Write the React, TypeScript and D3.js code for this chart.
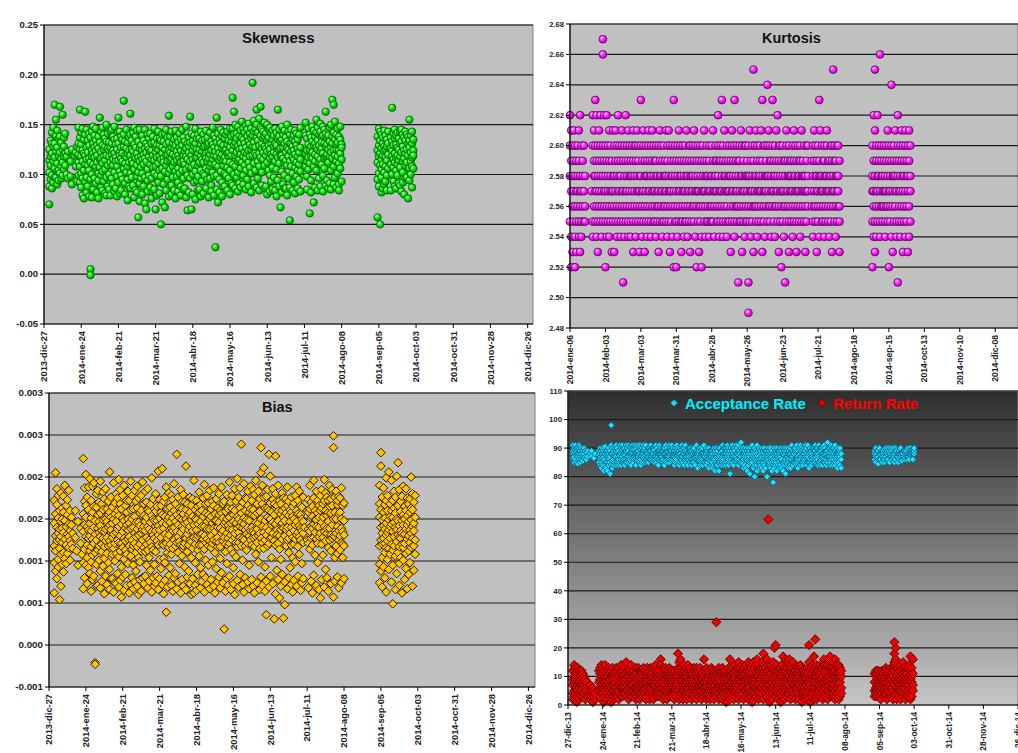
import * as d3 from "d3";

const FONT = "Arial, 'Liberation Sans', Helvetica, sans-serif";
const MES = ["ene", "feb", "mar", "abr", "may", "jun", "jul", "ago", "sep", "oct", "nov", "dic"];

// ---- Skewness, milésimas, una lista por día ----
const skewStartA = "2013-12-31";
const skewA: number[][] = [
  [102,88,125,70,114],[118,95,134,109],[142,99,121,86,131],[113,128,92,147],[170,106,131,117,97],[155,97,139,123],[111,144,90,127,103],
  [136,104,119,94],[168,122,101,138],[115,132,96,108],[160,125,112,99],[137,118,105,128],[121,109,141],[100,118],
  [123,96],[],[113,98],[125,90],[],[119],[108,122],
  [93,128],[147,112,131,99,120],[165,108,137,92,125],[142,118,101,130,87],[113,146,124,96,79],[135,104,121,76],[163,119,140,110,93],
  [127,97,145,115,82],[109,134,88,122],[141,116,78,104,129],[5,-1,112,137,95],[124,100,143,118,77],[131,85,110,148,121],[117,139,96,127],
  [146,108,123,91,134],[112,129,82,119],[138,101,126,94,76],[157,115,132,107],[122,143,99,116,87],[129,111,147,103,84],[140,93,118,125],
  [114,136,105,81,128],[150,119,97,133,79],[126,109,141,88],[118,132,100,124,85],[143,112,79,127],[131,96,120,145],[109,138,115,90,124],
  [148,121,102,135,83],[117,130,86,113],[136,108,125,98,78],[157,114,131,92],[122,143,103,119,81],[127,99,116,138,84],[113,135,121,95],
  [174,128,106,140],[119,91,133,111,80],[145,117,102,126],[108,132,95,121,74],[137,112,88,124],[161,119,140,101,86],[125,97,114,134],
  [111,142,123,89],[130,105,118,147,77],[116,127,84,138],[144,98,121,109,82],[57,117,133,102],[126,91,145,113,73],[107,129,118,96],
  [139,115,101,124,80],[120,88,134,110],[145,126,97,116,71],[113,131,65,122],[128,105,140,94,83],[118,136,99,125],[141,110,123,87],
  [124,96,131,115,76],[107,138,119,83],[132,114,101,146,85],[122,65,127,108],[136,99,117,129,79],[111,143,92,125],[129,104,118,136,81],
  [50,115,98,134],[140,121,106,127,72],[116,133,90,112],[125,67,141,103],[130,109,119,145,84],[120,95,137,113],[159,124,101,132,78],
  [114,138,105,122],[127,89,116,143,80],[108,131,120,97],[135,112,126,84],[118,144,103,129,76],[123,98,114,137],[106,132,119,92,83],
  [141,116,127,101],[112,135,88,124,79],[129,104,145,117],[119,137,96,113,85],[133,110,123,86],[126,148,105,118,77],[64,115,131,99],
  [137,122,108,128,82],[158,113,96,132],[65,119,141,107],[124,100,134,115,80],[110,128,92,139],[131,117,103,146,75],[117,94,125,136],
  [140,109,121,98,84],[125,136,112,85],[104,130,118,143,78],[134,115,93,123],[112,140,127,101,81],[128,99,119,135],[121,144,106,116,86],
  [137,113,95,129],[116,131,104,122,77],[142,120,108,96],[124,89,133,111,83],[130,147,115,102],[119,98,127,139,79],[27,123,110,136],
  [157,118,132,99,85],[72,126,108,141],[114,135,121,95,82],[131,103,117,145],[120,138,92,126,78],[109,129,142,114],[136,117,101,124,88],
  [125,99,140,113],[143,121,107,130,84],[118,134,96,122],[127,112,146,104,80],[133,91,119,138],[177,124,110,146,89],[163,129,100,140],
  [119,150,108,132,86],[141,122,97,136],[128,113,148,102,83],[115,139,125,91],[144,106,131,120,87],[126,153,112,137],[135,118,99,146,90],
  [122,142,109,131],[149,127,116,104,85],[138,121,95,145],[112,133,151,124,88],[130,107,141,118],[146,125,136,101,82],[192,119,139,128],
  [154,132,111,143,91],[127,146,104,121],[165,137,119,150,87],[134,113,142,96],[121,156,129,108,84],[168,139,117,147],[131,125,145,102,89],
  [143,115,136,122],[128,152,109,138,86],[119,141,126,88],[150,123,134,112,80],[137,104,145,129],[125,147,116,99,83],[141,131,120,93],
  [135,118,144,107,85],[122,139,97,128],[146,113,131,84],[129,142,105,120,78],[165,117,136,94],[138,124,111,145,88],[67,133,119,126],
  [119,148,103,135,82],[140,127,90,116],[131,112,144,99,86],[114,137,122,86],[127,150,109,133,79],[143,118,96,125],[54,131,113,140,87],
  [123,145,108,130],[136,101,128,117,84],[115,139,92,124],[144,120,107,133,81],[129,112,141,98],[118,135,104,126,86],[140,122,110,95],
  [127,147,115,103,83],[],[],[],[152,121,139,108],[113,136,124,98,85],[130,146,117,105],
  [61,125,140,111],[137,119,128,94,82],[148,116,133,122],[72,129,144,108],[120,138,113,131,87],[155,127,104,142],[134,118,147,125,84],
  [112,140,129,96],[143,123,151,115,88],[126,137,110,132],[148,121,99,139,83],[131,116,145,106],[163,128,141,118,89],[120,137,94,130],
  [144,125,112,139,86],[91,133,118,147],[127,104,150,122,85],[175,138,116,131],[170,124,142,108,90],[135,119,153,97],[125,140,113,130,87],
  [146,118,101,132],[111,138,124,90,84],[135,121,148,106],[93,130,115,127],
];
const skewStartB = "2014-09-04";
const skewB: number[][] = [
  [57,112,138,95,124],[146,101,129,118,88],[50,134,109,121,143],[115,97,140,126,105,82],[131,119,86,137,110],[144,123,102,128,90],[108,139,117,93,125],
  [135,114,128,99,84],[120,143,106,131],[],[126,110,137,84],[167,118,133,100,124],[141,107,129,115,93],[112,136,121,88,145],
  [130,104,117,139,86],[119,142,99,127,110],[136,114,125,91],[107,131,143,118,89],[145,122,83,133],[128,113,140,102,92],[116,137,124,80],
  [134,109,121,143,96],[125,140,97,112],[119,131,76,138],[155,127,106,134,94],[113,139,122,100],[131,117,143,108,87],[124,106,135,119],
];

// ---- Kurtosis, centésimas sobre 2.00 ----
const kurtStartA = "2014-01-06";
const kurtA: number[][] = [
  [62,58,55,60],[61,57,54,59,52],[53,56,60,58],[57,55,61,59],[54,58,56,52,60],[59,57,53,55],[56,60,58,57],
  [55,54,59,61],[58,57,53,56,62],[60,55,57,54],[56,59,58],[60,55,57],[58,56,55],[],
  [],[],[],[57],[55,60,62,54],[59,56,58,61],[63,57,55,60,58],
  [56,54,59,62,57],[60,58,55,53],[57,61,56,59],[62,55,58,60],[54,57,59,56],[67,66,58,55,60],[57,62,56,59],
  [52,58,55,60,57],[56,59,54,62],[60,57,55,58],[61,56,59,54],[55,58,57,60],[57,53,59,56],[58,61,55,57],
  [60,56,53,58],[57,59,55,61],[56,58,54,60],[62,55,57,59],[58,56,60,57],[55,59,54,58],[57,60,56,61],
  [59,51,55,57],[56,58,60,54],[57,62,55,59],[60,56,58,57],[54,59,55,61],[58,57,56,60],[55,58,59,54],
  [57,60,56,58],[59,53,55,61],[56,58,57,60],[60,55,59,54],[58,57,56,61],[55,59,60,57],[57,56,53,58],
  [63,58,55,60],[56,59,57,54],[60,57,61,55],[58,56,59,53],[57,60,55,58],[54,58,56,59],[61,57,60,55],
  [56,59,58,57],[60,55,54,58],[57,56,59,61],[58,60,55,57],[55,57,56,59],[59,58,60,54],[57,55,58,56],
  [60,56,57,53],[58,59,55,61],[56,57,60,58],[55,54,59,57],[58,60,56,55],[57,56,58,59],[61,58,55,57],
  [56,59,60,54],[58,55,57,61],[57,60,56,53],[59,57,58,55],[60,54,56,58],[63,52,57,59],[58,56,60,55],
  [52,57,55,59],[60,58,56,54],[57,61,55,59],[56,58,60,57],[59,55,53,58],[57,60,56,55],[58,54,59,57],
  [55,57,60,56],[59,58,55,61],[57,56,58,54],[60,59,57,55],[56,58,53,60],[58,55,57,59],[57,60,56,58],
  [59,56,61,55],[57,58,54,60],[52,56,59,57],[58,55,60,57],[56,59,57,53],[60,58,55,56],[52,57,59,54],
  [58,56,60,57],[55,59,57,61],[57,58,56,54],[59,55,60,58],[56,57,58,55],[60,54,59,57],[57,56,55,58],
  [58,60,56,55],[57,59,55,61],[56,57,58,54],[60,58,57,59],[55,56,59,57],[62,58,55,60],[57,54,56,59],
  [59,57,60,55],[63,56,58,57],[55,59,54,60],[58,57,56,61],[57,55,59,58],[56,60,57,54],[59,58,55,57],
  [55,57,60,58],[58,56,59,53],[60,55,57,61],[57,59,56,58],[63,54,55,60],[56,58,57,59],[57,60,55,56],
  [51,58,56,59],[59,55,57,60],[56,61,58,55],[58,57,60,53],[55,59,56,57],[57,58,54,60],[60,56,55,58],
  [58,57,59,55],[49,51,56,60,58],[57,55,58,61],[56,59,54,57],[60,58,57,55],[65,56,59,53],[57,60,58,56],
  [55,58,56,61],[59,57,60,54],[56,55,58,57],[58,60,57,59],[57,56,55,61],[63,58,59,53],[56,57,60,55],
  [60,58,54,57],[57,59,56,58],[64,55,58,60],[58,57,61,56],[56,60,55,59],[59,57,58,54],[63,56,60,57],
  [57,55,59,58],[58,60,56,54],[56,57,61,59],[62,58,55,57],[59,56,60,53],[55,58,57,60],[52,57,56,59],
  [58,60,55,57],[57,56,59,54],[51,59,58,56],[60,57,55,61],[56,58,59,57],[58,55,60,53],[57,59,56,58],
  [59,57,58,55],[56,60,54,57],[58,55,59,61],[57,58,56,60],[55,59,57,53],[60,56,58,57],[57,58,55,59],
  [56,59,60,54],[58,57,55,61],[59,56,57,58],[60,55,58,57],[57,58,53,56],[55,60,59,57],[58,56,57,60],
  [],[],[57,59,56],[58,55,60,54],[61,57,59,56],[56,58,55,60],[59,57,58,53],
  [57,60,56,55],[63,58,59,54],[56,57,61,58],[58,55,60,57],[55,59,57,56],[60,58,54,59],[57,56,55,58],
  [58,60,57,61],[56,59,55,57],[59,57,58,54],[55,58,56,60],[57,59,60,53],[65,56,58,57],[60,55,57,59],
  [58,56,59,54],[57,60,55,58],[56,58,57,60],[59,55,56,53],
];
const kurtStartB = "2014-09-02";
const kurtB: number[][] = [
  [52,58,60,55,57],[54,59,56,62,57],[65,58,55,61,53],[57,60,56,59,54],[62,55,58,57],[56,59,60,58],[66,57,55,54],
  [58,60,56,59],[55,57,58,56],[59,56,57,60],[57,58,55,54],[60,56,59,57],[56,55,58,61],[52,57,59,60],
  [58,55,56,57],[64,59,60,54],[57,58,56,53],[60,55,59,58],[56,57,58,61],[59,54,55,57],[51,62,58,60],
  [57,56,59,55],[58,60,54,57],[56,59,61,55],[60,57,58,53],[55,58,56,59],[57,61,60,54],[59,56,55,58],
  [58,60,57,53],[56,54,59,61],[60,57,55,58],
];

// ---- Bias, en unidades de 0.00001 ----
const biasStartA = "2013-12-31";
const biasA: number[][] = [
  [145,118,62,172,98],[130,156,88,205,112],[167,124,140,79,186],[102,151,133,93,178],[138,115,160,54,125],[181,108,147,129,70],[122,163,96,139,150],
  [158,134,110,177,87],[126,148,190,103],[141,119,166,97],[173,132,109,155],[116,144,129,184],[136,101,160,124],[152,120,143],
  [133,115],[],[160,128],[112],[147,95],[],[139,121],
  [108],[222,156,67,135,98],[187,143,114,171,80],[203,129,152,95,166],[119,176,141,104,73],[161,137,188,92,127],[145,112,198,130,85],
  [172,151,99,136,117,64],[126,189,107,158,78],[193,140,121,165,82],[-21,-23,148,110,132],[164,125,180,96,70],[139,113,155,71,184],[118,170,134,101,147],
  [157,129,195,88,142,68],[111,168,136,120,76],[182,149,94,161,127],[135,117,174,103,61],[150,186,124,82,138],[128,162,109,147,72],[171,140,118,98,155],
  [143,206,124,158,90,66],[119,152,137,176,79],[164,108,145,128,79],[132,193,115,150,63],[156,121,169,100,74],[109,147,180,134,73],[175,138,125,160,85],
  [122,197,154,105,141,69],[168,130,112,185,77],[144,121,162,93,57],[135,178,116,151,81],[190,127,148,102,65],[113,166,139,124,84],[158,143,108,172,71],
  [126,183,150,97,137],[172,118,145,129,62],[139,195,106,161,72],[150,125,178,114,80],[118,162,140,95,67],[184,133,121,153,75],[129,171,110,146,88],
  [163,138,117,189,70],[146,104,175,131,60],[120,157,142,99,78],[178,133,112,160,64],[137,194,125,80],[154,116,168,141,73],[111,147,136,183,82],
  [170,128,152,95,120],[141,186,113,161,68],[125,159,104,138,76],[167,122,146,89],[135,199,117,154,63],[113,150,131,174,80],[148,127,162,96,70],
  [159,136,111,180,74],[124,165,148,82],[142,207,119,131,66],[173,102,151,137,79],[128,158,91,166],[210,145,120,155,72],[119,171,139,103,61],
  [153,132,176,98,77],[39,144,121,188],[163,127,149,110,69],[131,181,116,152,83],[146,120,164,92],[178,139,108,157,71],[115,151,136,173,64],
  [140,192,125,160,80],[168,118,147,85],[227,135,155,122,67],[129,176,110,143,75],[151,123,163,97],[134,185,119,158,62],[162,141,106,149,78],
  [118,156,138,179,70],[145,121,170,93],[213,150,127,161,66],[132,168,111,146,81],[155,119,137,88],[141,176,125,158,73],[123,149,166,104,60],
  [174,136,115,153,79],[128,196,143,62],[150,120,161,98,71],[137,172,127,149,65],[165,113,144,130,84],[119,158,182,106],[147,131,167,92,68],
  [132,160,119,141,76],[175,126,153,84],[141,191,114,130,63],[157,122,168,101,80],[126,147,138,178,72],[169,118,155,95],[138,184,124,150,67],
  [153,130,116,162,78],[121,171,145,99],[166,139,125,187,70],[135,156,110,148,62],[148,123,174,91],[128,163,140,117,75],[180,146,122,155,81],
  [139,117,160,103,68],[157,133,188,86],[124,151,136,168,74],[19,171,128,144],[146,120,159,111,64],[133,179,150,97,79],[162,127,143,118,71],
  [121,194,138,152,82],[170,145,114,131,66],[137,162,125,178],[155,109,147,92,73],[128,186,133,160,60],[145,122,171,105],[198,153,117,139,77],
  [134,176,150,122,69],[163,128,141,187,84],[239,146,118,157],[127,170,139,101,72],[151,192,125,144,63],[118,160,137,175,80],[174,132,149,113],
  [140,166,121,183,75],[158,130,148,95,67],[125,189,136,162],[172,119,155,140,78],[136,161,128,185,70],[154,117,179,133,62],[129,196,146,108],
  [168,138,122,157,74],[145,183,130,99],[133,159,115,174,66],[235,150,127,205,81],[122,168,141,190,71],[176,134,211,115],[148,125,163,93,64],
  [36,140,177,131,76],[163,118,152,185],[227,136,160,121,69],[150,201,127,169,82],[128,158,143,104],[173,133,186,146,73],[31,155,124,168],
  [225,144,180,119,61],[137,166,131,89],[159,121,148,190,78],[130,172,114,56],[168,137,156,102,70],[145,181,126,160,84],[32,152,139,175],
  [48,163,130,148,75],[174,118,157,137],[140,188,125,166,67],[127,154,171,110,80],[161,133,147,92],[119,176,140,158,72],[153,128,165,104,63],
  [136,169,120,150,77],[178,143,126,99],[131,160,147,188,70],[156,117,172,134,82],[142,183,129,108],[125,155,166,139,65],[164,136,150,97,74],
  [147,122,176,133,79],[140],[],[125,160],[138,173,121,158,68],[162,135,190,114],[127,151,141,170,76],
  [153,119,165,139,62],[175,144,128,196,83],[134,160,107,149],[149,183,126,141,71],[121,157,172,98],[166,140,129,152,66],[56,178,133,160],
  [185,146,120,163,78],[128,168,152,107],[141,197,135,172,69],[160,124,181,90],[133,154,139,176,80],[172,116,147,158,64],[125,190,165,139],
  [157,131,174,112,73],[143,166,127,185],[249,235,150,57,130],[129,176,158,104,76],[118,183,150,133],[167,141,109,172,81],[136,177,125,156,68],
  [158,130,175,113],[187,122,150,139,74],[120,166,135,104],[148,131,169,118,79],
];
const biasStartB = "2014-09-04";
const biasB: number[][] = [
  [190,152,118,168,96,74],[229,213,140,125,161,88],[176,133,104,149,120,69],[158,187,127,142,93],[121,167,138,110,151,80],[145,199,116,131,172,63],[134,160,178,102,124],
  [206,149,115,137,90],[168,127,153,108,141],[196,120,144,160,75],[49,135,172,113,152,95],[183,129,146,118,163],[140,176,106,157,66],[201,150,123,137,85],
  [217,166,131,110,148],[128,185,142,117,97,71],[159,136,171,104,127],[177,120,148,133,62],[143,189,116,155,101],[165,132,150,121,78],[186,138,109,160,91],
  [154,175,126,143,67],[130,168,147,112,84],[174,122,158,137,98],[200,149,133,116,163],[161,127,180,141,70],[145,170,118,136,89],[178,152,125,108],
];

// ---- Acceptance Rate / Return Rate, % ----
const accStartA = "2013-12-31";
const accA: number[][] = [
  [89,86.5,91,88],[87,90,85,88.5],[91,88,86,89.5],[85,89,87.5,90],[88,84.5,90,87],[89.5,86,91,88],[87,90.5,85,89],
  [88,86,90],[89,87,85.5],[90,86.5,88],[87,89],[86,88.5],[89,87],[],
  [88],[87,89],[],[86.5],[88],[],[],
  [89,85,87.5],[84,88,90,86.5],[83,89,87,85],[86.5,90,84,88],[82,87,89,85.5],[88,84,90.5,86],[85,89,83,87.5],
  [87,82,89,85],[84,90,86.5,88],[81,87,89,85],[98,91,84,88],[88,85.5,90,83],[87,89,84,86],[85,90,88,87],
  [89,84,87,91],[86,88.5,85,90],[84,89,87,86],[88,85,91,87.5],[90,86,84,88],[87,89.5,85,91],[85,88,90,86],
  [88,84,87.5,90],[86,91,89,85],[87,85,88.5,90],[89,86,91,87],[85,88,86,90.5],[88,90,84,87],[86,89,88,91],
  [90,87,85,89.5],[87,91,86,88],[89,84,88,90],[86,88,91,85.5],[88,86,89,87],[91,88,85,90],[87,89.5,86,84],
  [85,90,88,87],[89,86.5,91,88],[87,85,89,90],[88,91,86,87.5],[86,89,85,88],[90,87,88.5,85],[88,86,90,89],
  [87,89,86,91],[85.5,88,90,87],[89,86,88,90],[90,87,85,89.5],[86,91,88,87],[88,85,90,86.5],[87,89,84,88],
  [89,86,88,91],[87,90,85.5,88],[88,86,89,87],[85,89,90,86],[90,87.5,88,84],[86,88,91,87],[89,85,87,90],
  [87,89,86,88.5],[88,91,87,85],[86,88,90,89],[89,85.5,87,91],[88,90,86,87],[87,84,89,88],[90,88,85,86.5],
  [86,89,88,91],[88,85,87.5,90],[89,87,84,88],[85,90,88,86],[87,86,89.5,91],[88,90,85,87],[86,88,90,84],
  [89,86,87,91],[87,89.5,85,88],[88,84,90,86],[86,88,87,90],[90,85,88.5,89],[84,87,89,86],[88,90,86,85],
  [85,89,87,90],[87,84,88,86.5],[89,86,91,88],[86,88,83,87],[88,90,85.5,89],[84,87,86,90],[87,89,88,85],
  [86,90,84,88],[88,85,87,91],[85,89,86.5,87],[89,84,88,90],[87,86,85,89],[83,88,90,86],[88,85.5,87,89],
  [86,89,84,87],[89,83,88,85],[84,87,86.5,90],[88,82,89,86],[85,90,87,84],[87,84,88,89],[82,86,90,85],
  [88,85,87,90],[86,89,84,88.5],[89,87,85,91],[84,88,86,90],[87,90,85,88],[90,86.5,88,84],[85,89,87,91],
  [88,84,90,86],[81,87,89,85],[86,90,84.5,88],[89,85,87,91],[87,88,84,90],[90,86,89,85.5],[86,91,88,87],
  [88,85,90,86],[91,87.5,84,89],[85,89,88,86],[87,92,85,90],[89,86,88,84.5],[86,90,83,88],[88,84,89,87],
  [83,88,86,90],[87,82,89,85.5],[90,86,84,88],[85,89,81,87],[88,84.5,90,86],[86,91,85,89],[89,87,83,88],
  [80,86,90,84],[87,89,85.5,88],[84,91,86,82],[89,85,88,87],[86,83,90,85],[88,86.5,84,89],[90,85,87,83],
  [85,89,82,88],[87,84,90,86],[83,88,85.5,89],[89,86,80,87],[86,90,84,88],[84,87,89,85],[88,83,86.5,90],
  [85,89,87,82],[78,86,88,84],[90,85,87.5,83],[86,89,84,88],[88,82,90,85],[84,87,86,89],[89,85.5,83,88],
  [86,90,84,87],[83,88,86,89],[88,85,90,82],[85,87.5,89,84],[90,86,81,88],[84,89,87,85],[87,83,88,90],
  [89,85,86,88],[84,88,90,83],[87,91,85.5,86],[88,84,89,87],[85,90,86,88],[89,86,84.5,90],[86,88,91,85],
  [83,87,89,86],[88,90,85,87.5],[86,84,88,91],[90,87,85,89],[85,89.5,88,84],[87,86,90,88],[89,85,87,91],
  [84,88,86.5,90],[86,91,87,85],[88,85,89,83],[85,90,88.5,86],[89,87,84,88],[87,85,90,86],[90,88,86.5,89],
  [86,89,91,85],[88,84.5,87,90],[84,90,86,88],[89,87,85,91],[85,88.5,90,84],[90,86,89,87],[87,84,88,90],
  [88,91,86,85],[85,89,87.5,90],[89,86,88,84],[87,92,85,89],[90,88,86.5,87],[84,87,90,85],[88,86,89,91],
  [87,90,84,88.5],[85,88,86,90],[89,87,91,84],[86,89.5,85,88],[83,88,90,87],[88,86,89,85],[87,89,84,90],
  [86,88,83],
];
const accStartB = "2014-09-01";
const accB: number[][] = [
  [88,86,89],[87,85,90],[89,86.5,88],[84.5,87,89],[88,90,86],[86,88,87.5],[89,87,85],
  [87,89,88],[85,88.5,86],[88,90,87],[86,89,88],[90,87.5,86],[88,85,89],[87,90,88],
  [89,86,87],[86.5,88,90],[88,87,85],[90,89,86],[87,88.5,89],[85,87,88],[89,86,88],
  [88,90,87],[86,88,85.5],[87,89,88],[89,87,86],[88,86.5,89],[86,89,87],[90,88,87],
  [87,86,88],[88,90,89],[89,87.5,88],[86,88,89],[88,89,90],
];

const retStartA = "2013-12-31";
const retA: number[][] = [
  [7,4,12,9,2],[5,14,8,3,10],[13,6,9,4,11],[8,3,10,6,1],[11,7,4,13,5],[6,9,2,8,12],[4,10,7,3],
  [9,5,12,7],[3,8,6,11],[10,4,7],[6,2,9],[8,5],[4,3],[],
  [5,2,7],[4,3],[6,1],[3,5],[2,4],[],[],
  [8,12,5],[13,6,9,3,11],[7,10,4,14,2],[11,5,8,13,6],[4,9,12,7,1],[10,3,6,14,8],[5,11,2,9,7],
  [12,7,4,10],[6,13,9,3,8],[9,5,11,2,7],[4,12,6,10,1],[10,7,3,13,5],[8,11,5,9,2],[6,3,12,7],
  [11,8,4,13,6],[5,9,12,3],[13,7,10,5,2],[7,4,11,8],[9,12,6,3,14],[6,10,3,8],[12,5,9,7,4],
  [4,8,13,6,10],[15,9,5,11],[7,3,10,12,5],[10,6,8,2,13],[5,12,4,9],[8,14,7,3,11],[11,6,9,4],
  [3,10,7,12,5],[9,4,11,6],[13,8,2,10,6],[6,11,4,9,3],[10,5,13,7],[4,9,6,12,2],[7,12,3,10],
  [12,6,9,4,11],[5,10,7,13,3],[8,4,12,6],[11,7,2,9,5],[6,13,8,3,10],[9,5,11,7],[4,10,6,12,2],
  [10,7,13,5],[6,11,3,9,8],[13,4,10,7,2],[7,12,5,9],[11,3,8,14,6],[5,9,12,4],[8,6,11,3,10],
  [12,5,9,7,4],[16,14,6,10,3],[7,11,4,8],[10,2,13,6,9],[4,8,11,5],[9,12,3,7,13],[6,10,5,11,2],
  [11,4,8,12,6],[5,9,13,3,7],[8,12,6,10],[3,7,11,5,9],[10,6,4,12,8],[7,11,2,9,5],[12,5,10,4],
  [6,9,3,11,7],[18,10,5,8,13],[4,12,7,15,2],[9,6,11,3,16],[13,8,5,10,4],[7,11,9,2,12],[5,14,8,6,10],
  [10,4,12,7,3],[8,13,6,11,2],[6,9,4,14,10],[12,7,3,9,5],[4,11,8,6,13],[9,2,12,5,7],[11,6,10,3,8],
  [7,13,5,9,4],[3,10,12,6,8],[13,7,4,11,2],[8,5,10,6,12],[6,11,3,9,7],[12,4,8,13,5],[5,9,7,2,10],
  [9,12,4,7,11],[16,6,10,3,8],[4,8,12,6],[11,5,9,2,13],[7,10,4,8,6],[10,3,12,5,9],[6,11,7,4,2],
  [8,5,10,13,3],[12,7,4,9,6],[5,11,8,2,10],[9,4,12,6,7],[29,3,10,8,5],[6,12,4,11,9],[10,7,2,8,13],
  [4,9,6,11,7],[11,5,8,3,12],[7,13,10,5,2],[9,4,7,12,6],[3,10,8,5,11],[12,6,4,9,1],[8,11,5,10,7],
  [5,9,13,4,8],[16,7,11,2,10],[10,4,8,12,6],[6,13,3,9,11],[9,5,11,7,2],[14,8,4,10,6],[7,12,9,3,5],
  [11,6,8,13,4],[4,10,15,7,2],[13,8,5,11,9],[8,3,12,6,10],[10,14,7,4,12],[6,9,11,2,8],[12,5,13,9,7],
  [5,11,8,14,3],[9,6,12,4,10],[13,8,15,7,2],[7,12,4,10,6],[11,3,9,13,5],[4,10,14,8,1],[15,7,11,5,9],
  [8,13,4,10,6],[12,6,9,14,3],[5,11,16,7,10],[10,4,8,13,2],[7,14,12,5,9],[13,9,3,11,6],[6,10,15,8,4],
  [18,11,7,13,2],[9,14,5,10,12],[4,8,13,6,11],[12,16,9,3,7],[65,10,5,14,8],[7,12,4,9,1],[14,6,11,8,3],
  [10,5,13,8,2],[6,12,9,15,4],[20,11,7,13,5],[21,8,12,3,10],[5,14,9,6,11],[12,7,4,10,2],[9,13,6,11,8],
  [4,10,13,7,1],[11,6,9,14,3],[8,17,12,5,10],[13,4,7,11,2],[6,12,16,9,5],[10,3,8,13,7],[15,9,5,11,4],
  [7,16,12,4,10],[12,5,9,13,2],[9,14,6,11,8],[5,10,15,3,7],[11,7,13,4,9],[8,12,2,10,6],[13,6,9,5,11],
  [6,11,4,8,13],[10,3,12,7,2],[14,8,5,11,9],[4,13,10,6,1],[9,5,12,8,3],[12,7,4,10,6],[5,10,8,3,11],
  [9,4,12,7,2],[11,6,13,8,3],[21,15,10,5,8],[7,12,4,9,1],[13,6,10,3,11],[5,9,14,8,4],[17,12,6,10,2],
  [23,10,5,13,8],[4,11,7,14,2],[12,6,9,3,10],[8,13,5,11,7],[10,3,12,6,14],[6,9,4,13,11],[13,7,10,2,8],
  [5,12,8,16,3],[11,6,14,9,4],[9,13,3,7,12],[14,5,10,8,2],[7,11,6,13,4],[10,17,8,3,12],[4,9,13,6,11],
  [12,6,15,9,3],[8,13,4,11,7],[16,10,5,12,2],[6,9,14,3,11],[11,4,8,13,6],[9,14,7,2,10],[5,11,13,8,3],
  [10,6,12,4],
];
const retStartB = "2014-09-01";
const retB: number[][] = [
  [8,5,11,3],[10,6,4,12],[7,9,3,11,5],[6,12,8,4],[9,3,11,7,5],[11,5,8,10,2],[4,9,12,6],
  [10,7,3,8,11],[5,12,9,6],[8,4,10,13,3],[12,6,9,2],[7,11,5,8],[9,3,12,6,10],[4,10,7,13],
  [11,6,3,9],[13,8,5,10,2],[18,22,15,12,7,4],[20,16,13,9,3],[10,14,6,2,8],[5,11,8,13,4],[12,7,3,9],
  [6,10,14,5,2],[9,4,12,7],[11,15,6,3,8],[4,8,13,10],[10,6,2,9,12],[7,12,4,11],[13,5,9,3,8],
  [6,10,14,7],[17,9,4,12,2],[8,13,6,10,3],[16,11,7,5],
];

// ---- ejes ----
const leftTicks = ["2013-12-27","2014-01-24","2014-02-21","2014-03-21","2014-04-18","2014-05-16","2014-06-13","2014-07-11","2014-08-08","2014-09-05","2014-10-03","2014-10-31","2014-11-28","2014-12-26"];
const kurtTicks = ["2014-01-06","2014-02-03","2014-03-03","2014-03-31","2014-04-28","2014-05-26","2014-06-23","2014-07-21","2014-08-18","2014-09-15","2014-10-13","2014-11-10","2014-12-08"];
const skewYTicks = [-0.05, 0, 0.05, 0.1, 0.15, 0.2, 0.25];
const skewYLabels = ["-0.05", "0.00", "0.05", "0.10", "0.15", "0.20", "0.25"];
const kurtYTicks = [2.48, 2.5, 2.52, 2.54, 2.56, 2.58, 2.6, 2.62, 2.64, 2.66, 2.68];
const kurtYLabels = ["2.48", "2.50", "2.52", "2.54", "2.56", "2.58", "2.60", "2.62", "2.64", "2.66", "2.68"];
const biasYTicks = [-0.0005, 0, 0.0005, 0.001, 0.0015, 0.002, 0.0025, 0.003];
const biasYLabels = ["-0.001", "0.000", "0.001", "0.001", "0.002", "0.002", "0.003", "0.003"];
const rateYTicks = [0, 10, 20, 30, 40, 50, 60, 70, 80, 90, 100, 110];
const rateYLabels = ["0", "10", "20", "30", "40", "50", "60", "70", "80", "90", "100", "110"];

const parse = (s: string) => new Date(s + "T00:00:00");
const pad = (n: number) => (n < 10 ? "0" + n : "" + n);
const fmtLong = (d: Date) => `${d.getFullYear()}-${MES[d.getMonth()]}-${pad(d.getDate())}`;
const fmtShort = (d: Date) => `${pad(d.getDate())}-${MES[d.getMonth()]}-${pad(d.getFullYear() % 100)}`;

type Pt = { d: Date; v: number };
const expand = (start: string, days: number[][], f: (v: number) => number): Pt[] => {
  const t0 = parse(start);
  const out: Pt[] = [];
  days.forEach((vals, i) => {
    const d = d3.timeDay.offset(t0, i);
    vals.forEach(v => out.push({ d, v: f(v) }));
  });
  return out;
};

const skewPts = [...expand(skewStartA, skewA, v => v / 1000), ...expand(skewStartB, skewB, v => v / 1000)];
const kurtPts = [...expand(kurtStartA, kurtA, v => 2 + v / 100), ...expand(kurtStartB, kurtB, v => 2 + v / 100)];
const biasPts = [...expand(biasStartA, biasA, v => v / 100000), ...expand(biasStartB, biasB, v => v / 100000)];
const accPts = [...expand(accStartA, accA, v => v), ...expand(accStartB, accB, v => v)];
const retPts = [...expand(retStartA, retA, v => v), ...expand(retStartB, retB, v => v)];

const diamond = (s: number) => `M0,${-s}L${s},0L0,${s}L${-s},0Z`;

type Box = { l: number; r: number; t: number; b: number };

const Panel = (props: {
  box: Box; xDom: [string, string]; yDom: [number, number];
  yTicks: number[]; yLabels: string[]; xTicks: string[]; xFmt: (d: Date) => string;
  yFont: number; xFont: number; bg: string;
  marks: (x: d3.ScaleTime<number, number>, y: d3.ScaleLinear<number, number>) => any;
}) => {
  const { box, yTicks, yLabels, xTicks, xFmt, yFont, xFont } = props;
  const x = d3.scaleTime().domain(props.xDom.map(parse)).range([box.l, box.r]);
  const y = d3.scaleLinear().domain(props.yDom).range([box.b, box.t]);
  return (
    <g>
      <rect x={box.l} y={box.t} width={box.r - box.l} height={box.b - box.t} fill={props.bg} stroke="#808080" strokeWidth={1} />
      {yTicks.slice(1).map(t => (
        <line key={t} x1={box.l} x2={box.r} y1={y(t)} y2={y(t)} stroke="#1a1a1a" strokeWidth={1.2} />
      ))}
      {props.marks(x, y)}
      <line x1={box.l} x2={box.l} y1={box.t} y2={box.b} stroke="#000" strokeWidth={1.2} />
      <line x1={box.l} x2={box.r} y1={box.b} y2={box.b} stroke="#000" strokeWidth={1.2} />
      {yTicks.map((t, i) => (
        <g key={t}>
          <line x1={box.l - 4} x2={box.l} y1={y(t)} y2={y(t)} stroke="#000" />
          <text x={box.l - 6} y={y(t) + yFont * 0.35} textAnchor="end" fontSize={yFont} fontWeight="bold" fill="#222">{yLabels[i]}</text>
        </g>
      ))}
      {xTicks.map(s => {
        const px = x(parse(s));
        return (
          <g key={s}>
            <line x1={px} x2={px} y1={box.b} y2={box.b + 4} stroke="#000" />
            <text transform={`translate(${px + xFont * 0.36},${box.b + 7}) rotate(-90)`} textAnchor="end" fontSize={xFont} fontWeight="bold" fill="#222">
              {xFmt(parse(s))}
            </text>
          </g>
        );
      })}
    </g>
  );
};

export default function App() {
  return (
    <svg width={1018} height={753} style={{ position: "absolute", left: 0, top: 0, background: "#fff" }} fontFamily={FONT}>
      <defs>
        <radialGradient id="gGreen" cx="0.4" cy="0.4" r="0.6" fx="0.35" fy="0.3">
          <stop offset="0%" stopColor="#b8ffb8" />
          <stop offset="55%" stopColor="#00e600" />
          <stop offset="100%" stopColor="#009a00" />
        </radialGradient>
        <radialGradient id="gPink" cx="0.4" cy="0.4" r="0.6" fx="0.35" fy="0.3">
          <stop offset="0%" stopColor="#ffc8ff" />
          <stop offset="55%" stopColor="#ff1aff" />
          <stop offset="100%" stopColor="#c000c0" />
        </radialGradient>
        <linearGradient id="gRate" x1="0" y1="0" x2="0" y2="1">
          <stop offset="0%" stopColor="#2e2e2e" />
          <stop offset="100%" stopColor="#c6c6c6" />
        </linearGradient>
      </defs>

      <Panel box={{ l: 44, r: 533, t: 25, b: 324 }} xDom={["2013-12-27", "2014-12-30"]} yDom={[-0.05, 0.25]}
        yTicks={skewYTicks} yLabels={skewYLabels} xTicks={leftTicks} xFmt={fmtLong} yFont={9.5} xFont={9.3} bg="#c0c0c0"
        marks={(x, y) => skewPts.map((p, i) => (
          <circle key={i} cx={x(p.d)} cy={y(p.v)} r={3.7} fill="url(#gGreen)" stroke="#0a5a0a" strokeWidth={0.8} />
        ))} />
      <text x={242} y={43} fontSize={15} fontWeight="bold" fill="#111">Skewness</text>

      <Panel box={{ l: 570, r: 1018, t: 24, b: 328 }} xDom={["2014-01-06", "2014-12-26"]} yDom={[2.48, 2.68]}
        yTicks={kurtYTicks} yLabels={kurtYLabels} xTicks={kurtTicks} xFmt={fmtLong} yFont={7.6} xFont={8.6} bg="#c0c0c0"
        marks={(x, y) => kurtPts.map((p, i) => (
          <circle key={i} cx={x(p.d)} cy={y(p.v)} r={3.9} fill="url(#gPink)" stroke="#5a0a5a" strokeWidth={0.8} />
        ))} />
      <text x={762} y={43} fontSize={14.5} fontWeight="bold" fill="#111">Kurtosis</text>

      <Panel box={{ l: 49, r: 535, t: 393, b: 687 }} xDom={["2013-12-27", "2014-12-31"]} yDom={[-0.0005, 0.003]}
        yTicks={biasYTicks} yLabels={biasYLabels} xTicks={leftTicks} xFmt={fmtLong} yFont={9.8} xFont={9.3} bg="#c0c0c0"
        marks={(x, y) => biasPts.map((p, i) => (
          <path key={i} d={diamond(4.3)} transform={`translate(${x(p.d)},${y(p.v)})`} fill="#ffc400" stroke="#2a1e00" strokeWidth={1} />
        ))} />
      <text x={262} y={412} fontSize={14.5} fontWeight="bold" fill="#111">Bias</text>

      <Panel box={{ l: 568, r: 1018, t: 391, b: 705 }} xDom={["2013-12-27", "2014-12-26"]} yDom={[0, 110]}
        yTicks={rateYTicks} yLabels={rateYLabels} xTicks={leftTicks} xFmt={fmtShort} yFont={7.8} xFont={8.3} bg="url(#gRate)"
        marks={(x, y) => (
          <g>
            {accPts.map((p, i) => (
              <path key={"a" + i} d={diamond(3.3)} transform={`translate(${x(p.d)},${y(p.v)})`} fill="#1fe0ff" stroke="#0a5f80" strokeWidth={0.9} />
            ))}
            {retPts.map((p, i) => (
              <path key={"r" + i} d={diamond(4.6)} transform={`translate(${x(p.d)},${y(p.v)})`} fill="#ee0000" stroke="#5a0000" strokeWidth={0.9} />
            ))}
          </g>
        )} />
      <path d={diamond(3.6)} transform="translate(674,403)" fill="#1fe0ff" stroke="#0a5f80" strokeWidth={0.9} />
      <text x={685} y={409} fontSize={15} fontWeight="bold" fill="#00f0ff">Acceptance Rate</text>
      <path d={diamond(3.8)} transform="translate(822,403)" fill="#ee0000" stroke="#5a0000" strokeWidth={0.9} />
      <text x={833} y={409} fontSize={15} fontWeight="bold" fill="#ff0000">Return Rate</text>
    </svg>
  );
}
